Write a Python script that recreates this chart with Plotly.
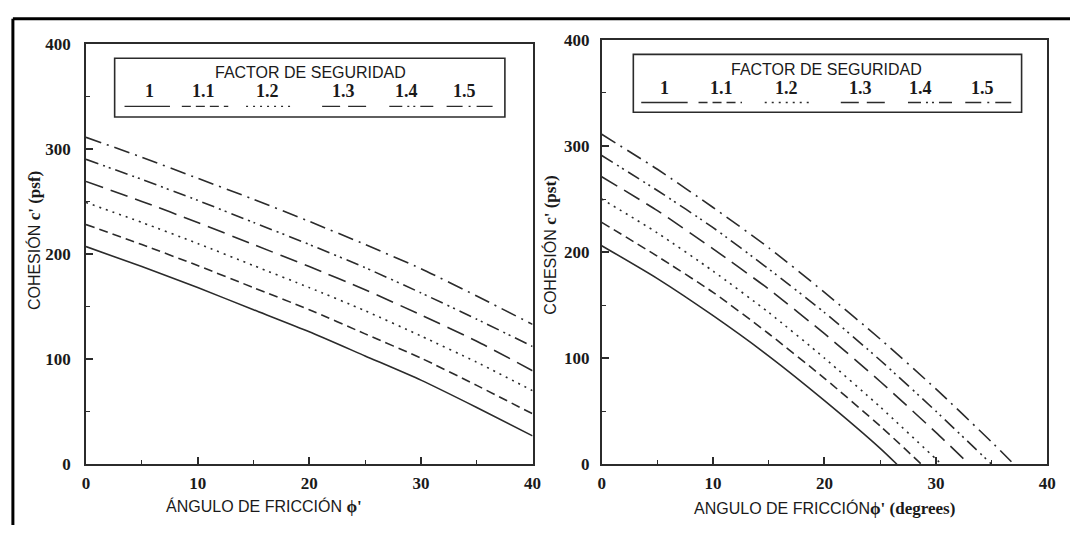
import plotly.graph_objects as go

W, H = 1079, 535

# ---------------- data ----------------
factors = ["1", "1.1", "1.2", "1.3", "1.4", "1.5"]

left_x = [0, 5, 10, 15, 20, 25, 30, 35, 40]
left_c_10 = [207, 188, 168, 147, 126, 103, 80, 54, 27]
left_c_11 = [228, 209, 189, 168, 147, 124, 101, 75, 48]
left_c_12 = [249, 230, 210, 189, 168, 146, 122, 97, 70]
left_c_13 = [269, 250, 230, 209, 188, 166, 142, 117, 89]
left_c_14 = [290, 271, 251, 230, 209, 187, 163, 138, 112]
left_c_15 = [311, 292, 272, 252, 231, 209, 186, 160, 133]

right_x_10 = [0, 5, 10, 15, 20, 25, 26.5]
right_c_10 = [206, 175, 140, 102, 60, 15, 0]
right_x_11 = [0, 5, 10, 15, 20, 25, 28.7]
right_c_11 = [228, 196, 162, 123, 81, 36, 0]
right_x_12 = [0, 5, 10, 15, 20, 25, 30, 30.5]
right_c_12 = [250, 218, 182, 143, 100, 54, 5, 0]
right_x_13 = [0, 5, 10, 15, 20, 25, 30, 33]
right_c_13 = [271, 239, 203, 165, 123, 78, 30, 0]
right_x_14 = [0, 5, 10, 15, 20, 25, 30, 35]
right_c_14 = [291, 258, 223, 184, 143, 98, 50, 0]
right_x_15 = [0, 5, 10, 15, 20, 25, 30, 35, 37]
right_c_15 = [311, 278, 242, 204, 162, 118, 71, 21, 0]

x_ticks = [0, 10, 20, 30, 40]
y_ticks = [0, 100, 200, 300, 400]

# ---------------- styles ----------------
dashes = ["solid", "9px,5px", "2px,5px", "18px,8px",
          "13px,5px,2px,4px,2px,5px", "16px,6px,2px,6px"]
LC = "#2b2b2b"
LW = 1.6
SERIF = "Liberation Serif"
SANS = "Liberation Sans"


def px(x):
    return x / W


def py(y):
    return 1 - y / H


left_series = [left_c_10, left_c_11, left_c_12, left_c_13, left_c_14, left_c_15]
right_series = [(right_x_10, right_c_10), (right_x_11, right_c_11),
                (right_x_12, right_c_12), (right_x_13, right_c_13),
                (right_x_14, right_c_14), (right_x_15, right_c_15)]

fig = go.Figure()
for i, ys in enumerate(left_series):
    fig.add_trace(go.Scatter(x=left_x, y=ys, mode="lines", xaxis="x", yaxis="y",
                             line=dict(color=LC, width=LW, dash=dashes[i],
                                       shape="spline", smoothing=0.6),
                             name=factors[i], showlegend=False, hoverinfo="skip"))
for i, (xs, ys) in enumerate(right_series):
    fig.add_trace(go.Scatter(x=xs, y=ys, mode="lines", xaxis="x2", yaxis="y2",
                             line=dict(color=LC, width=LW, dash=dashes[i],
                                       shape="spline", smoothing=0.6),
                             name=factors[i], showlegend=False, hoverinfo="skip"))

axis_common = dict(
    showgrid=False, zeroline=False,
    showline=True, linecolor=LC, linewidth=1.8, mirror=True,
    ticks="inside", ticklen=7, tickwidth=1.5, tickcolor=LC,
    tickfont=dict(family=SERIF, size=17, color="#1a1a1a", weight="bold"),
)

xl = dict(axis_common, range=[0, 40], tickvals=x_ticks,
          minor=dict(ticks="inside", ticklen=4, tickwidth=1.3, tickcolor=LC, dtick=5),
          ticklabelstandoff=2)
yl = dict(axis_common, range=[0, 400], tickvals=y_ticks,
          minor=dict(ticks="inside", ticklen=4, tickwidth=1.3, tickcolor=LC, dtick=50),
          ticklabelstandoff=10)

fig.update_layout(
    width=W, height=H, margin=dict(l=0, r=0, t=0, b=0),
    paper_bgcolor="white", plot_bgcolor="white",
    xaxis=dict(xl, domain=[px(83), px(535)], anchor="y"),
    yaxis=dict(yl, domain=[py(472), py(36)], anchor="x"),
    xaxis2=dict(xl, domain=[px(605), px(1056)], anchor="y2"),
    yaxis2=dict(yl, domain=[py(472), py(32)], anchor="x2", ticklabelstandoff=7),
)

shapes = []
annotations = []

# outer page border (top and left)
shapes.append(dict(type="line", xref="paper", yref="paper", x0=px(9), x1=1, y0=py(10), y1=py(10),
                   line=dict(color="black", width=3)))
shapes.append(dict(type="line", xref="paper", yref="paper", x0=px(9), x1=px(9), y0=py(10), y1=0,
                   line=dict(color="black", width=3)))


def legend(box, title_xy, num_y, line_y, num_x, seg):
    x0, y0, x1, y1 = box
    shapes.append(dict(type="rect", xref="paper", yref="paper",
                       x0=px(x0), x1=px(x1), y0=py(y1), y1=py(y0),
                       line=dict(color=LC, width=1.6), fillcolor="white"))
    annotations.append(dict(xref="paper", yref="paper", x=px(title_xy[0]), y=py(title_xy[1]),
                            text="FACTOR DE SEGURIDAD", showarrow=False,
                            font=dict(family=SANS, size=16, color="#1a1a1a"),
                            xanchor="center", yanchor="middle"))
    for i, f in enumerate(factors):
        annotations.append(dict(xref="paper", yref="paper", x=px(num_x[i]), y=py(num_y),
                                text="<b>%s</b>" % f, showarrow=False,
                                font=dict(family=SERIF, size=18, color="#1a1a1a"),
                                xanchor="center", yanchor="middle"))
        shapes.append(dict(type="line", xref="paper", yref="paper",
                           x0=px(seg[i][0]), x1=px(seg[i][1]), y0=py(line_y), y1=py(line_y),
                           line=dict(color=LC, width=1.4, dash=dashes[i])))


legend((112, 51, 507, 112), (310, 66), 85, 101,
       [147, 202, 267, 344, 407, 466],
       [(122, 168), (180, 227), (245, 293), (322, 368), (390, 438), (448, 495)])
legend((637, 47, 1030, 107), (833, 63), 82, 97,
       [669, 726, 792, 867, 928, 990],
       [(645, 692), (703, 747), (770, 815), (847, 892), (915, 960), (973, 1020)])

# axis titles
annotations.append(dict(xref="paper", yref="paper", x=px(31), y=py(240), textangle=-90,
                        text="COHESIÓN <span style='font-family:Liberation Serif;font-size:17px'><b>c' (psf)</b></span>",
                        showarrow=False, font=dict(family=SANS, size=16, color="#1a1a1a"),
                        xanchor="center", yanchor="middle"))
annotations.append(dict(xref="paper", yref="paper", x=px(553), y=py(245), textangle=-90,
                        text="COHESIÓN <span style='font-family:Liberation Serif;font-size:17px'><b>c' (pst)</b></span>",
                        showarrow=False, font=dict(family=SANS, size=16, color="#1a1a1a"),
                        xanchor="center", yanchor="middle"))
annotations.append(dict(xref="paper", yref="paper", x=px(263), y=py(516),
                        text="ÁNGULO DE FRICCIÓN <span style='font-family:Liberation Serif;font-size:17px'><b>ϕ'</b></span>",
                        showarrow=False, font=dict(family=SANS, size=16, color="#1a1a1a"),
                        xanchor="center", yanchor="middle"))
annotations.append(dict(xref="paper", yref="paper", x=px(830), y=py(518),
                        text="ANGULO DE FRICCIÓN<span style='font-family:Liberation Serif;font-size:17px'><b>ϕ' (degrees)</b></span>",
                        showarrow=False, font=dict(family=SANS, size=16, color="#1a1a1a"),
                        xanchor="center", yanchor="middle"))

fig.update_layout(shapes=shapes, annotations=annotations)
fig.write_html("out.html")
